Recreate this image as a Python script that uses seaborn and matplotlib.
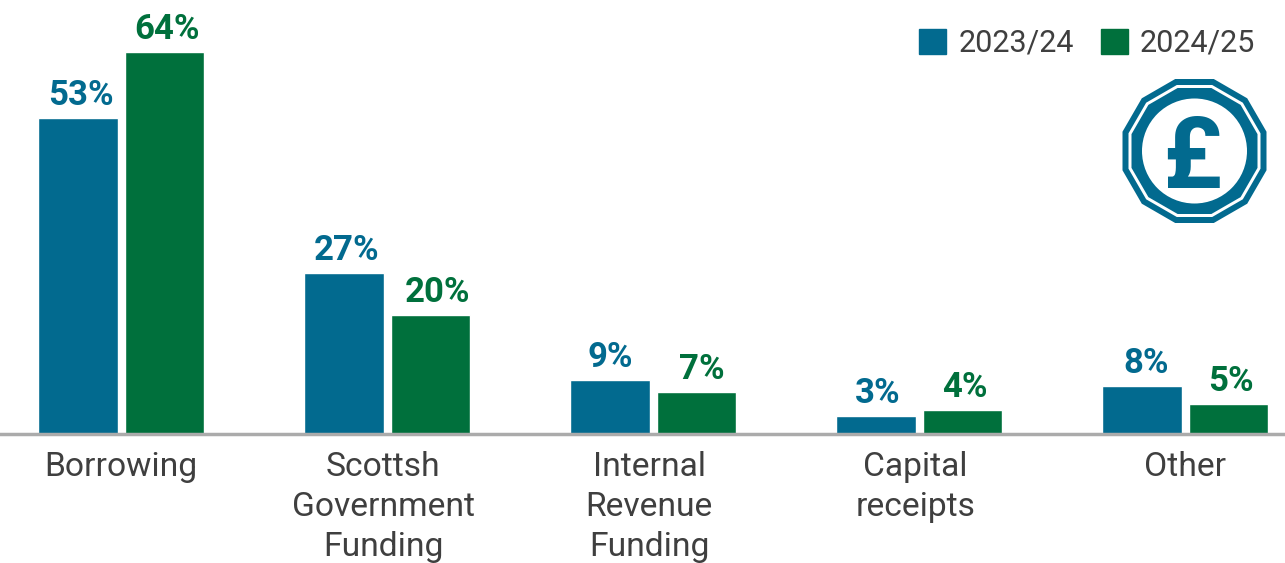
import matplotlib
matplotlib.use('Agg')
import matplotlib.pyplot as plt
import numpy as np
import pandas as pd
import seaborn as sns
from matplotlib.patches import Circle, RegularPolygon

categories = ['Borrowing', 'Scottsh\nGovernment\nFunding', 'Internal\nRevenue\nFunding',
              'Capital\nreceipts', 'Other']
years = ['2023/24', '2024/25']
values_2324 = [53, 27, 9, 3, 8]
values_2425 = [64, 20, 7, 4, 5]

BLUE = '#026A8F'
GREEN = '#00703C'
GREY = '#3F3F3F'

sns.set_theme(style='white')
plt.rcParams['font.family'] = ['Roboto', 'DejaVu Sans']

df = pd.DataFrame({'category': categories * 2,
                   'year': [years[0]] * 5 + [years[1]] * 5,
                   'value': values_2324 + values_2425})

fig = plt.figure(figsize=(12.85, 5.63), dpi=100)
ax = fig.add_axes([0, 1 - 434 / 563, 1, 434 / 563])
sns.barplot(data=df, x='category', y='value', hue='year', palette=[BLUE, GREEN],
            saturation=1, width=0.65, gap=0.08, legend=False, ax=ax)

ax.set_xlim(-0.456, 4.375)
ax.set_ylim(0, 72.8)
ax.set_xlabel('')
ax.set_ylabel('')
ax.set_yticks([])
# middle three labels sit slightly left of their bars in the original
ax.set_xticks([0, 0.985, 1.985, 2.985, 4], categories)
ax.tick_params(axis='x', length=0, pad=12.5, labelsize=24.2, labelcolor=GREY)
for lab in ax.get_xticklabels():
    lab.set_linespacing(1.32)
    lab.set_verticalalignment('top')

for side in ['top', 'left', 'right']:
    ax.spines[side].set_visible(False)
ax.spines['bottom'].set_color('#ABABAB')
ax.spines['bottom'].set_linewidth(2.5)

# small horizontal nudges (points) so the value labels land where the original has them
nudges = [[2, 2, 0, 1.5, 3], [2, 5, 3.5, 1.5, 1.5]]
for cont, col, nudge in zip(ax.containers, [BLUE, GREEN], nudges):
    labels = ax.bar_label(cont, fmt='%g%%', padding=4.3, color=col, fontsize=25, fontweight='bold')
    for t, dx in zip(labels, nudge):
        t.xyann = (dx, t.xyann[1])

# legend
handles = [plt.Rectangle((0, 0), 1, 1, color=c) for c in [BLUE, GREEN]]
fig.legend(handles, years, loc='upper right', bbox_to_anchor=(0.977, 0.949), ncol=2,
           frameon=False, fontsize=22, labelcolor=GREY, handlelength=0.885,
           handleheight=0.885, handletextpad=0.4, columnspacing=0.88,
           borderpad=0, borderaxespad=0)

# pound coin icon, figure pixel coords
icon = fig.add_axes([0, 0, 1, 1], facecolor='none')
icon.set_xlim(0, 1285)
icon.set_ylim(563, 0)
icon.axis('off')
cx, cy = 1194.5, 151
rot = np.pi / 12
for apothem, col in [(72, BLUE), (66, 'white'), (63, BLUE)]:
    icon.add_patch(RegularPolygon((cx, cy), 12, radius=apothem / np.cos(rot), orientation=rot,
                                  color=col, lw=0))
icon.add_patch(Circle((cx, cy), 52.5, color='white', lw=0))
icon.text(cx - 3, cy, '£', color=BLUE, fontsize=72, fontweight='bold', ha='center', va='center_baseline')

fig.savefig('out.png', dpi=100)
